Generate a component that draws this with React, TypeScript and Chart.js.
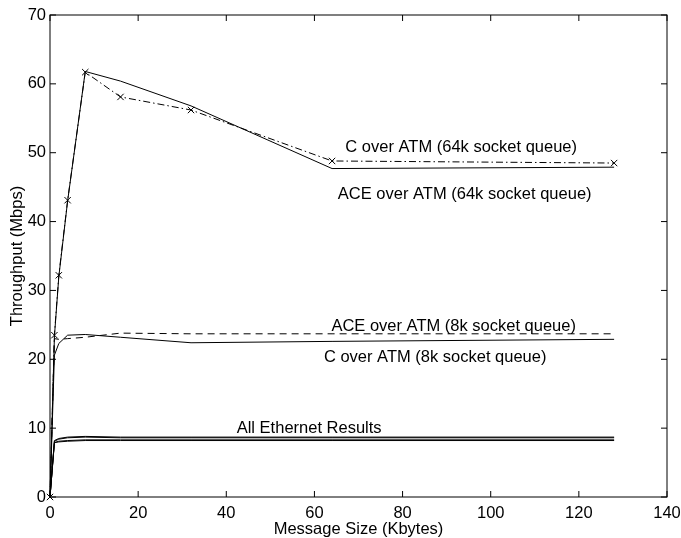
import React, { useEffect, useRef } from "react";
import { Chart, registerables } from "chart.js";

Chart.register(...registerables);

// Message sizes (Kbytes)
const messageSizes = [0, 1, 2, 4, 8, 16, 32, 64, 128];

// Throughput series (Mbps)
const cAtm64k = [0, 23.5, 32.2, 43.1, 61.7, 58.1, 56.2, 48.8, 48.5];
const aceAtm64k = [0, 23.3, 32.0, 43.0, 61.8, 60.4, 56.8, 47.7, 47.9];
const aceAtm8k = [0, 23.0, 22.9, 23.0, 23.2, 23.8, 23.7, 23.7, 23.7];
const cAtm8k = [0, 20.6, 22.3, 23.5, 23.6, 23.2, 22.4, 22.6, 22.9];
const ethA = [0, 8.2, 8.5, 8.7, 8.8, 8.7, 8.7, 8.7, 8.7];
const ethB = [0, 8.1, 8.4, 8.6, 8.7, 8.6, 8.6, 8.6, 8.6];
const ethC = [0, 7.9, 8.1, 8.2, 8.3, 8.3, 8.3, 8.3, 8.3];
const ethD = [0, 7.9, 8.0, 8.1, 8.2, 8.2, 8.2, 8.2, 8.2];

// Axis ticks
const xTicks = [0, 20, 40, 60, 80, 100, 120, 140];
const yTicks = [0, 10, 20, 30, 40, 50, 60, 70];

// Text labels, placed in data coordinates
const labelTexts = [
  "C over ATM (64k socket queue)",
  "ACE over ATM (64k socket queue)",
  "ACE over ATM (8k socket queue)",
  "C over ATM (8k socket queue)",
  "All Ethernet Results",
];
const labelXs = [93.3, 94.1, 91.6, 87.4, 58.8];
const labelYs = [50.8, 44.0, 24.8, 20.3, 10.0];

const xTitle = "Message Size (Kbytes)";
const yTitle = "Throughput (Mbps)";

const FAMILY = '"Liberation Sans", Arial, Helvetica, sans-serif';
const FONT = "16.5px " + FAMILY;

const pts = (ys: number[]) => messageSizes.map((x, i) => ({ x, y: ys[i] }));

const framePlugin = {
  id: "frame",
  afterDatasetsDraw(chart: any) {
    const { ctx, chartArea, scales } = chart;
    const { left, right, top, bottom } = chartArea;
    const xs = scales.x;
    const ys = scales.y;
    ctx.save();
    ctx.strokeStyle = "#000";
    ctx.lineWidth = 1;
    ctx.strokeRect(left, top, right - left, bottom - top);
    const tl = 6;
    ctx.beginPath();
    xTicks.forEach((v) => {
      const px = xs.getPixelForValue(v);
      ctx.moveTo(px, bottom);
      ctx.lineTo(px, bottom - tl);
      ctx.moveTo(px, top);
      ctx.lineTo(px, top + tl);
    });
    yTicks.forEach((v) => {
      const py = ys.getPixelForValue(v);
      ctx.moveTo(left, py);
      ctx.lineTo(left + tl, py);
      ctx.moveTo(right, py);
      ctx.lineTo(right - tl, py);
    });
    ctx.stroke();

    ctx.fillStyle = "#000";
    ctx.font = FONT;
    ctx.textAlign = "center";
    ctx.textBaseline = "middle";
    labelTexts.forEach((t, i) => {
      ctx.fillText(t, xs.getPixelForValue(labelXs[i]), ys.getPixelForValue(labelYs[i]));
    });

    ctx.fillText(xTitle, (left + right) / 2, 529.5);
    ctx.save();
    ctx.translate(17, (top + bottom) / 2);
    ctx.rotate(-Math.PI / 2);
    ctx.fillText(yTitle, 0, 0);
    ctx.restore();
    ctx.restore();
  },
};

export default function App() {
  const ref = useRef<HTMLCanvasElement | null>(null);

  useEffect(() => {
    if (!ref.current) return;
    const base = {
      borderColor: "#000",
      backgroundColor: "#000",
      borderWidth: 1,
      pointRadius: 0,
      tension: 0,
      fill: false,
      clip: false as any,
    };
    const chart = new Chart(ref.current, {
      type: "line",
      data: {
        datasets: [
          { ...base, label: "ACE over ATM (64k)", data: pts(aceAtm64k) },
          {
            ...base,
            label: "C over ATM (64k)",
            data: pts(cAtm64k),
            borderDash: [7, 3, 1.5, 3],
            pointStyle: "crossRot",
            pointRadius: 4.5,
            pointBorderColor: "#000",
            pointBorderWidth: 1,
          },
          { ...base, label: "ACE over ATM (8k)", data: pts(aceAtm8k), borderDash: [7, 5] },
          { ...base, label: "C over ATM (8k)", data: pts(cAtm8k) },
          { ...base, label: "Eth A", data: pts(ethA) },
          { ...base, label: "Eth B", data: pts(ethB) },
          { ...base, label: "Eth C", data: pts(ethC) },
          { ...base, label: "Eth D", data: pts(ethD) },
        ],
      },
      options: {
        responsive: false,
        animation: false,
        events: [],
        layout: { padding: { left: 0, top: 15, right: 14, bottom: 0 } },
        plugins: {
          legend: { display: false },
          title: { display: false },
          tooltip: { enabled: false },
        },
        scales: {
          x: {
            type: "linear",
            min: 0,
            max: 140,
            afterFit: (s: any) => {
              s.height = 41;
              s.paddingLeft = 0;
              s.paddingRight = 0;
            },
            afterBuildTicks: (s: any) => {
              s.ticks = xTicks.map((v) => ({ value: v }));
            },
            grid: { display: false, drawTicks: false },
            border: { display: false },
            ticks: {
              color: "#000",
              font: { family: FAMILY, size: 16.5 },
              padding: 7,
              maxRotation: 0,
            },
          },
          y: {
            type: "linear",
            min: 0,
            max: 70,
            afterFit: (s: any) => {
              s.width = 50;
              s.paddingTop = 0;
              s.paddingBottom = 0;
            },
            afterBuildTicks: (s: any) => {
              s.ticks = yTicks.map((v) => ({ value: v }));
            },
            grid: { display: false, drawTicks: false },
            border: { display: false },
            ticks: {
              color: "#000",
              font: { family: FAMILY, size: 16.5 },
              padding: 4,
            },
          },
        },
      },
      plugins: [framePlugin],
    });
    return () => chart.destroy();
  }, []);

  return (
    <div style={{ position: "absolute", left: 0, top: 0, width: 681, height: 538, background: "#fff" }}>
      <canvas ref={ref} width={681} height={538} style={{ display: "block" }} />
    </div>
  );
}
